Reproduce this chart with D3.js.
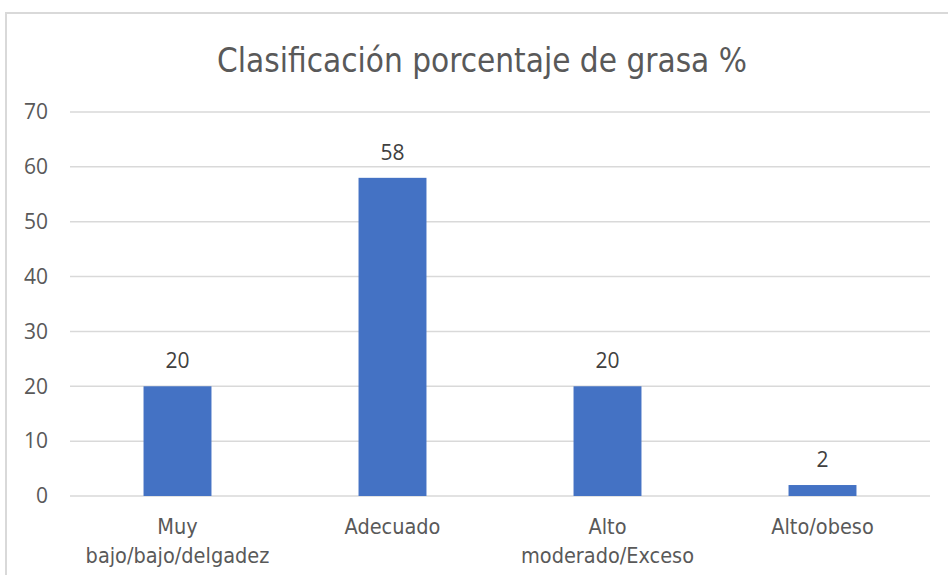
<!DOCTYPE html>
<html>
<head>
<meta charset="utf-8">
<script src="https://d3js.org/d3.v7.min.js"></script>
<style>
  body { margin: 0; background: #fff; }
  #chart { display: block; }
  .axis text { fill: #595959; font-family: "Open Sans", sans-serif; font-size: 21px; }
  .cat text { fill: #595959; font-family: "DejaVu Sans Condensed", "Liberation Sans Narrow", sans-serif; font-size: 21.5px; }
  .title { fill: #595959; font-family: "DejaVu Sans Condensed", sans-serif; font-size: 33px; }
  .label { fill: #404040; font-family: "Open Sans", sans-serif; font-size: 21px; }
</style>
</head>
<body>
<svg id="chart"></svg>
<script>
var categories = ['Muy bajo/bajo/delgadez', 'Adecuado', 'Alto moderado/Exceso', 'Alto/obeso'];
var catLines = [['Muy', 'bajo/bajo/delgadez'], ['Adecuado'], ['Alto', 'moderado/Exceso'], ['Alto/obeso']];
var values = [20, 58, 20, 2];
var yTicks = [0, 10, 20, 30, 40, 50, 60, 70];
var title = 'Clasificación porcentaje de grasa %';

var W = 948, H = 575;
var margin = {top: 112, right: 18, bottom: 79, left: 70};
var width = W - margin.left - margin.right;
var height = H - margin.top - margin.bottom;

var svg = d3.select('#chart').attr('width', W).attr('height', H);

// chart frame (only top and left visible in the crop)
svg.append('path')
  .attr('d', 'M6,' + H + 'V13H' + W)
  .attr('fill', 'none')
  .attr('stroke', '#d9d9d9')
  .attr('stroke-width', 2);

svg.append('text')
  .attr('class', 'title')
  .attr('x', 482)
  .attr('y', 72)
  .attr('text-anchor', 'middle')
  .text(title);

var x = d3.scaleBand()
  .domain(categories)
  .range([0, width])
  .paddingInner(0.684)
  .paddingOuter(0.342);

var y = d3.scaleLinear()
  .domain([0, 70])
  .range([height, 0]);

var chart = svg.append('g')
  .attr('transform', `translate(${margin.left}, ${margin.top})`);

// gridlines
chart.append('g')
  .selectAll('line')
  .data(yTicks)
  .enter().append('line')
    .attr('x1', 0)
    .attr('x2', width)
    .attr('y1', d => y(d))
    .attr('y2', d => y(d))
    .attr('stroke', '#d9d9d9')
    .attr('stroke-width', 1.5);

var yAxis = d3.axisLeft(y).tickValues(yTicks).tickSize(0).tickPadding(22);
chart.append('g')
  .attr('class', 'axis y')
  .call(yAxis)
  .call(g => g.select('.domain').remove());

chart.selectAll('.bar')
  .data(values)
  .enter().append('rect')
    .attr('class', 'bar')
    .attr('x', (d, i) => x(categories[i]))
    .attr('y', d => y(d))
    .attr('width', x.bandwidth())
    .attr('height', d => height - y(d))
    .attr('fill', '#4472c4');

chart.selectAll('.label')
  .data(values)
  .enter().append('text')
    .attr('class', 'label')
    .attr('x', (d, i) => x(categories[i]) + x.bandwidth() / 2)
    .attr('y', d => y(d) - 18)
    .attr('text-anchor', 'middle')
    .text(d => d);

var cat = chart.append('g')
  .attr('class', 'cat')
  .attr('transform', `translate(0, ${height})`);

cat.selectAll('text')
  .data(categories)
  .enter().append('text')
    .attr('x', d => x(d) + x.bandwidth() / 2)
    .attr('y', 38)
    .attr('text-anchor', 'middle')
    .each(function(d, i) {
      d3.select(this).selectAll('tspan')
        .data(catLines[i])
        .enter().append('tspan')
          .attr('x', x(d) + x.bandwidth() / 2)
          .attr('dy', (t, j) => j === 0 ? 0 : 29)
          .text(t => t);
    });
</script>
</body>
</html>
